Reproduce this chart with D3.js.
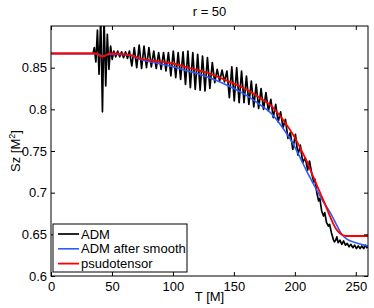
<!DOCTYPE html>
<html>
<head>
<meta charset="utf-8">
<script src="https://cdn.jsdelivr.net/npm/d3@7"></script>
<style>
  body { margin: 0; background: #fff; }
  text { font-family: "Liberation Sans", Arial, sans-serif; font-size: 13px; fill: #000; }
</style>
</head>
<body>
<script>
// ADM (raw, oscillating)
const admT = [0, 34.5, 35.5, 36.8, 38.1, 39.4, 40.8, 42.2, 43.5, 44.9, 46.2, 47.5, 48.9, 50.2,
  51.5, 53.1, 54.7, 56.3, 57.9, 59.5, 61.1, 62.7, 64.3, 66.3, 68.3, 70.3, 72.3, 74.3, 76.3, 78.3, 80.3, 82.3, 84.3, 86.3, 88.3, 90.3,
  92.3, 94.3, 96.3, 98.3, 100.3, 102.3, 104.3, 106.3, 108.3, 110.3, 112.3, 114.3, 116.3, 118.3, 120.3, 122.3, 124.3, 126.3, 128.3,
  130.3, 132.3, 134.3, 136.3, 138.3, 140.3, 142.3, 144.3, 146.3, 148.3, 150.3, 152.3, 154.3, 156.3, 158.3, 160.3, 162.3, 164.3,
  166.3, 168.3, 170.3, 172.3, 174.3, 176.3, 178.3, 180.3, 182.3, 184.3, 186.3, 188.3, 190.3, 192.3, 194.3, 196.3, 198.3, 200.5,
  202.5, 204.5, 206.5, 208.5, 210.5, 212, 214, 215.5, 216.5, 218, 219.5, 220.5, 222, 223.5, 224.5, 226, 227.5, 228.5, 230, 231.5,
  232.5, 233.5, 234.5, 235.5, 237, 238.5, 240, 241.5, 243, 244.5, 246, 247.5, 249, 250.5, 252, 253.5, 255, 256.5, 258, 259, 260];
const admSz = [0.867, 0.867, 0.874, 0.857, 0.895, 0.842, 0.910, 0.797, 0.910, 0.828, 0.890, 0.848, 0.876, 0.860,
  0.870, 0.863, 0.870, 0.863, 0.869, 0.862, 0.869, 0.861, 0.870, 0.852, 0.874, 0.850, 0.877, 0.849, 0.876, 0.850, 0.874, 0.851, 0.870, 0.849, 0.868, 0.848,
  0.868, 0.846, 0.868, 0.840, 0.870, 0.838, 0.868, 0.836, 0.869, 0.830, 0.870, 0.826, 0.868, 0.824, 0.866, 0.823, 0.864, 0.822, 0.862,
  0.825, 0.856, 0.832, 0.848, 0.834, 0.847, 0.833, 0.846, 0.814, 0.851, 0.810, 0.850, 0.808, 0.846, 0.808, 0.840, 0.806, 0.834,
  0.803, 0.830, 0.801, 0.825, 0.800, 0.820, 0.798, 0.812, 0.790, 0.806, 0.785, 0.797, 0.778, 0.788, 0.765, 0.772, 0.752, 0.770,
  0.745, 0.757, 0.736, 0.742, 0.727, 0.738, 0.722, 0.713, 0.716, 0.700, 0.690, 0.693, 0.678, 0.672, 0.676, 0.664, 0.660, 0.662, 0.652, 0.644,
  0.641, 0.643, 0.647, 0.640, 0.643, 0.638, 0.642, 0.637, 0.639, 0.635, 0.638, 0.634, 0.637, 0.633, 0.636, 0.633, 0.636, 0.633, 0.637, 0.634, 0.635];

// ADM after smooth
const smoothT = [0, 36, 39, 42, 45, 48, 55, 65, 73, 85, 100, 110, 120, 130, 140, 150, 160, 170, 180, 190, 198, 205, 210, 214, 218, 223, 229, 234, 238, 243, 250, 260];
const smoothSz = [0.867, 0.867, 0.866, 0.864, 0.865, 0.866, 0.866, 0.865, 0.860, 0.856, 0.851, 0.847, 0.843, 0.838, 0.832, 0.825, 0.817, 0.807, 0.796, 0.778, 0.760, 0.740, 0.725, 0.714, 0.703, 0.690, 0.676, 0.662, 0.651, 0.644, 0.640, 0.636];

// psudotensor
const pseudoT = [0, 37, 41, 44, 48, 60, 65, 73, 85, 100, 110, 120, 130, 140, 150, 160, 170, 180, 190, 200, 205, 210, 214, 218, 221, 224, 229, 234, 238, 242, 250, 260];
const pseudoSz = [0.867, 0.867, 0.8635, 0.864, 0.867, 0.866, 0.865, 0.861, 0.858, 0.855, 0.851, 0.847, 0.843, 0.837, 0.831, 0.824, 0.815, 0.805, 0.788, 0.766, 0.752, 0.737, 0.723, 0.709, 0.699, 0.689, 0.671, 0.656, 0.650, 0.648, 0.648, 0.648];

const xTicks = [0, 50, 100, 150, 200, 250];
const yTicks = [0.6, 0.65, 0.7, 0.75, 0.8, 0.85];

const series = [
  { name: "ADM", t: admT, v: admSz, color: "#000000", width: 1.7, curve: d3.curveLinear },
  { name: "ADM after smooth", t: smoothT, v: smoothSz, color: "#2a5cff", width: 1.6, curve: d3.curveMonotoneX },
  { name: "psudotensor", t: pseudoT, v: pseudoSz, color: "#ff0000", width: 1.8, curve: d3.curveMonotoneX }
];

const W = 374, H = 308;
const margin = { top: 26, right: 6, bottom: 32, left: 51 };
const width = W - margin.left - margin.right;
const height = H - margin.top - margin.bottom;

const svg = d3.select("body").append("svg")
  .attr("width", W)
  .attr("height", H);

const g = svg.append("g")
  .attr("transform", `translate(${margin.left},${margin.top})`);

const x = d3.scaleLinear().domain([0, 260]).range([0, width]);
const y = d3.scaleLinear().domain([0.6, 0.9]).range([height, 0]);

g.append("clipPath").attr("id", "clip")
  .append("rect").attr("width", width).attr("height", height);

// data lines
const plot = g.append("g").attr("clip-path", "url(#clip)");
series.forEach(s => {
  const pts = s.t.map((t, i) => [t, s.v[i]]);
  plot.append("path")
    .datum(pts)
    .attr("fill", "none")
    .attr("stroke", s.color)
    .attr("stroke-width", s.width)
    .attr("stroke-linejoin", "round")
    .attr("d", d3.line().curve(s.curve).x(d => x(d[0])).y(d => y(d[1])));
});

// axes with inward ticks on all four sides
const tick = 4;
g.append("g")
  .attr("transform", `translate(0,${height})`)
  .call(d3.axisBottom(x).tickValues(xTicks).tickSizeInner(-tick).tickSizeOuter(0).tickPadding(6).tickFormat(d3.format("d")));
g.append("g")
  .call(d3.axisTop(x).tickValues(xTicks).tickSizeInner(-tick).tickSizeOuter(0).tickFormat(""));
g.append("g")
  .call(d3.axisLeft(y).tickValues(yTicks).tickSizeInner(-tick).tickSizeOuter(0).tickPadding(4).tickFormat(d => d3.format("")(+d.toFixed(2))));
g.append("g")
  .attr("transform", `translate(${width},0)`)
  .call(d3.axisRight(y).tickValues(yTicks).tickSizeInner(-tick).tickSizeOuter(0).tickFormat(""));

g.selectAll(".domain").remove();
g.selectAll(".tick line").attr("stroke", "#000");
g.selectAll(".tick text").style("font-size", "13px").attr("fill", "#000");

g.append("rect")
  .attr("width", width).attr("height", height)
  .attr("fill", "none").attr("stroke", "#000").attr("stroke-width", 1);

// titles
svg.append("text")
  .attr("x", margin.left + width / 2).attr("y", 16)
  .attr("text-anchor", "middle")
  .text("r = 50");

svg.append("text")
  .attr("x", margin.left + width / 2).attr("y", 301)
  .attr("text-anchor", "middle")
  .text("T [M]");

const yl = svg.append("text")
  .attr("transform", `translate(20,${margin.top + height / 2}) rotate(-90)`)
  .attr("text-anchor", "middle");
yl.append("tspan").text("Sz [M");
yl.append("tspan").attr("dy", -5).style("font-size", "9px").text("2");
yl.append("tspan").attr("dy", 5).text("]");

// legend
const lg = svg.append("g").attr("transform", "translate(53,224)");
lg.append("rect")
  .attr("width", 134).attr("height", 48)
  .attr("fill", "#fff").attr("stroke", "#000").attr("stroke-width", 1);
series.forEach((s, i) => {
  const yy = 10 + i * 14.8;
  lg.append("line")
    .attr("x1", 5).attr("x2", 26).attr("y1", yy).attr("y2", yy)
    .attr("stroke", s.color).attr("stroke-width", s.width);
  lg.append("text")
    .attr("x", 28).attr("y", yy + 4.5)
    .text(s.name);
});
</script>
</body>
</html>
